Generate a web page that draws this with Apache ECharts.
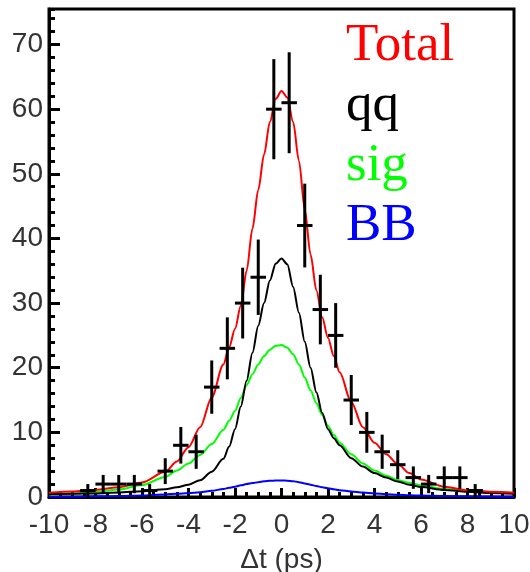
<!DOCTYPE html>
<html>
<head>
<meta charset="utf-8">
<script src="https://cdn.jsdelivr.net/npm/echarts@6/dist/echarts.min.js"></script>
<style>
  html, body { margin: 0; padding: 0; background: #fff; }
  #chart { width: 530px; height: 572px; }
</style>
</head>
<body>
<div id="chart"></div>
<script>
// Δt distribution: binned events with Poisson errors and fit components

// bin centres (ps) and event counts
const binCenters = [-8.33, -7.67, -7.0, -6.33, -5.67, -5.0, -4.33, -3.67, -3.0, -2.33, -1.67, -1.0, -0.33,
                    0.33, 1.0, 1.67, 2.33, 3.0, 3.67, 4.33, 5.0, 5.67, 6.33, 7.0, 7.67, 8.33];
const binCounts  = [1, 2, 2, 2, 1, 4, 8, 7, 17, 23, 30, 34, 60,
                    61, 42, 29, 25, 15, 10, 7, 5, 3, 2, 3, 3, 1];
const binHalfWidth = 1 / 3;

// fit curves, sampled at these Δt values
const curveX = [-10, -9, -8, -7, -6, -5, -4.5, -4, -3.5, -3, -2.5, -2.25, -2, -1.75, -1.5, -1.25, -1, -0.75, -0.5, -0.25, 0,
                0.25, 0.5, 0.75, 1, 1.25, 1.5, 1.75, 2, 2.25, 2.5, 3, 3.5, 4, 4.5, 5, 5.5, 6, 7, 8, 9, 10];
const totalY = [0.65, 0.85, 1.1, 1.5, 2.25, 3.9, 5.5, 7.7, 10.8, 15.4, 20.5, 23.2, 26.0, 29.6, 35.0, 41.5, 47.5, 53.0, 58.0, 61.6, 62.8,
                61.8, 58.0, 52.0, 44.5, 37.5, 32.0, 27.8, 24.6, 21.8, 19.3, 14.7, 10.8, 8.4, 6.6, 5.1, 3.7, 2.7, 1.6, 1.05, 0.8, 0.65];
const qqY    = [0.45, 0.5, 0.55, 0.7, 0.9, 1.2, 1.5, 1.9, 2.6, 3.9, 5.9, 7.8, 10.5, 14.0, 18.0, 22.3, 26.5, 30.0, 33.5, 36.1, 36.9,
                36.0, 32.5, 28.5, 24.0, 20.0, 16.2, 13.0, 10.5, 9.1, 8.0, 6.0, 4.7, 3.7, 3.0, 2.4, 1.9, 1.55, 1.1, 0.8, 0.6, 0.5];
const sigY   = [0.4, 0.5, 0.75, 1.15, 1.85, 3.1, 4.1, 5.2, 6.5, 8.2, 10.4, 11.8, 13.3, 15.3, 17.3, 19.0, 20.5, 21.8, 22.8, 23.4, 23.5,
                23.1, 22.1, 20.5, 18.5, 16.5, 14.5, 12.7, 11.0, 9.6, 8.4, 6.6, 5.2, 4.1, 3.3, 2.6, 2.2, 1.8, 1.25, 0.9, 0.7, 0.6];
const bbY    = [0.02, 0.05, 0.1, 0.17, 0.25, 0.4, 0.5, 0.6, 0.75, 0.95, 1.25, 1.42, 1.6, 1.8, 2.0, 2.15, 2.3, 2.42, 2.5, 2.55, 2.55,
                2.52, 2.45, 2.3, 2.1, 1.9, 1.7, 1.5, 1.35, 1.2, 1.05, 0.85, 0.68, 0.55, 0.44, 0.35, 0.28, 0.22, 0.15, 0.1, 0.06, 0.03];

// axis ticks
const xMajorStep = 2, xMinorStep = 0.5;
const yMajorStep = 10, yMinorStep = 2;
const xMin = -10, xMax = 10, yMin = 0, yMax = 75.5;

// legend entries
const legendLabels = ['Total', 'qq', 'sig', 'BB'];
const legendColors = ['#ff0000', '#000000', '#00ff00', '#0000ff'];

const pairs = ys => curveX.map((x, i) => [x, ys[i]]);
const points = binCenters.map((x, i) => [x, binCounts[i], Math.sqrt(binCounts[i])]);

const labelFont = { fontFamily: 'Liberation Sans', fontSize: 28, color: '#333' };

function curve(name, ys, color) {
  return {
    name, type: 'line', data: pairs(ys), showSymbol: false, smooth: 0.3,
    smoothMonotone: 'x', clip: true,
    lineStyle: { color, width: 2 }, xAxisIndex: 0, yAxisIndex: 0, z: 3
  };
}

const chart = echarts.init(document.getElementById('chart'));
chart.setOption({
  animation: false,
  backgroundColor: '#fff',
  grid: {
    left: 49, right: 16, top: 9, bottom: 75, outerBoundsMode: 'none', containLabel: false,
    show: true, borderColor: '#000', borderWidth: 3, backgroundColor: 'transparent'
  },
  xAxis: [
    {
      type: 'value', min: xMin, max: xMax, interval: xMajorStep, position: 'bottom',
      axisLine: { show: true, onZero: false, lineStyle: { color: '#000', width: 3 } },
      axisTick: { show: true, inside: true, length: 9, lineStyle: { color: '#000', width: 3 } },
      axisLabel: Object.assign({ margin: 14 }, labelFont),
      splitLine: { show: false },
      name: 'Δt (ps)', nameLocation: 'middle', nameGap: 49,
      nameTextStyle: labelFont
    },
    {
      type: 'value', min: xMin, max: xMax, interval: xMinorStep, position: 'bottom',
      axisLine: { show: false, onZero: false },
      axisTick: { show: true, inside: true, length: 5, lineStyle: { color: '#000', width: 3 } },
      axisLabel: { show: false }, splitLine: { show: false }
    }
  ],
  yAxis: [
    {
      type: 'value', min: yMin, max: yMax, interval: yMajorStep, position: 'left',
      axisLine: { show: true, onZero: false, lineStyle: { color: '#000', width: 3 } },
      axisTick: { show: true, inside: true, length: 11, lineStyle: { color: '#000', width: 3 } },
      axisLabel: Object.assign({ margin: 6, showMaxLabel: false }, labelFont),
      splitLine: { show: false }
    },
    {
      type: 'value', min: yMin, max: yMax, interval: yMinorStep, position: 'left',
      axisLine: { show: false, onZero: false },
      axisTick: { show: true, inside: true, length: 6, lineStyle: { color: '#000', width: 3 } },
      axisLabel: { show: false }, splitLine: { show: false }
    }
  ],
  series: [
    curve('BB', bbY, legendColors[3]),
    curve('sig', sigY, legendColors[2]),
    curve('qq', qqY, legendColors[1]),
    curve('Total', totalY, legendColors[0]),
    {
      name: 'data', type: 'custom', xAxisIndex: 0, yAxisIndex: 0, z: 5,
      data: points,
      renderItem(params, api) {
        const x = api.value(0), y = api.value(1), e = api.value(2);
        const lo = api.coord([x, y - e]), hi = api.coord([x, y + e]);
        const l = api.coord([x - binHalfWidth, y]), r = api.coord([x + binHalfWidth, y]);
        const st = { stroke: '#000', lineWidth: 3 };
        return {
          type: 'group',
          children: [
            { type: 'line', shape: { x1: lo[0], y1: lo[1], x2: hi[0], y2: hi[1] }, style: st },
            { type: 'line', shape: { x1: l[0], y1: l[1], x2: r[0], y2: r[1] }, style: st }
          ]
        };
      }
    }
  ],
  graphic: legendLabels.map((t, i) => ({
    type: 'text', x: 346, y: 20 + i * 59.7, z: 10,
    style: { text: t, fill: legendColors[i], font: '53px "Liberation Serif"', verticalAlign: 'top', align: 'left' }
  }))
});
</script>
</body>
</html>
